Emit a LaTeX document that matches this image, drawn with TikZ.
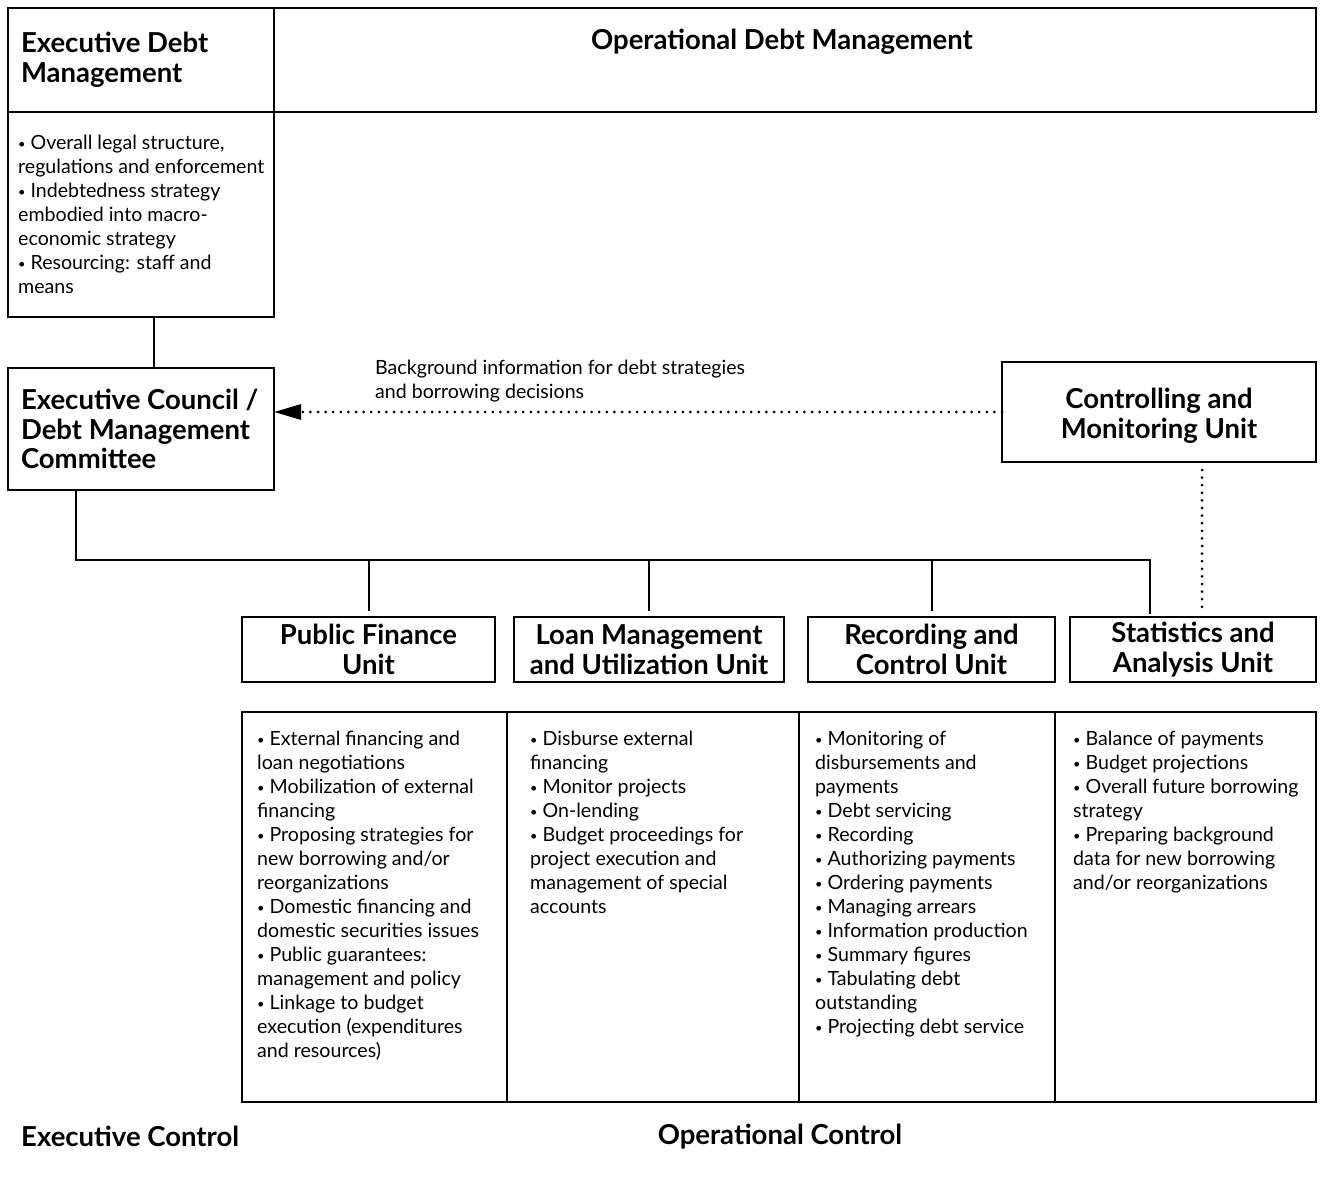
\documentclass[tikz,border=0pt]{standalone}
\usepackage{fontspec}
\setmainfont{Lato}
\usepackage{tikz}
\usetikzlibrary{arrows.meta,positioning}

\newcommand{\hdfont}{\fontsize{27.5}{29.5}\selectfont\bfseries}
\newcommand{\txtfont}{\fontsize{19.6}{24}\selectfont}
\newcommand{\bul}{\raisebox{0.1ex}{\scalebox{0.65}{•}}}

\begin{document}
\begin{tikzpicture}[x=1pt, y=-1pt,
  box/.style={draw, line width=2.2pt, inner sep=0pt, outer sep=0pt},
  headbox/.style={box, font=\hdfont, align=center},
  listtext/.style={font=\txtfont, align=left, inner sep=0pt, anchor=north west},
  orgline/.style={line width=2pt},
  dotline/.style={line width=3pt, line cap=round, dash pattern=on 0pt off 7.6pt},
  >={Triangle[length=27pt, width=15pt]}]
\useasboundingbox (0,0) rectangle (1323,1177);

% top row
\node[box, font=\hdfont, text width=240pt, align=flush left, minimum width=266pt, minimum height=104pt, anchor=north west] (EDM) at (8,8) {Executive Debt\\Management};
\node[box, minimum width=1042pt, minimum height=104pt, anchor=north west] (ODM) at (EDM.north east) {};
\node[font=\hdfont] (ODMtitle) at (782,42) {Operational Debt Management};

% executive side
\node[box, minimum width=266pt, minimum height=205pt, anchor=north west] (EDMbody) at (EDM.south west) {};
\node[listtext, anchor=west] (EDMlist) at ([xshift=10pt]EDMbody.west) {\bul{} Overall legal structure,\\regulations and enforcement\\\bul{} Indebtedness strategy\\embodied into macro-\\economic strategy\\\bul{} Resourcing: staff and\\means};
\node[box, font=\hdfont, text width=240pt, align=flush left, minimum width=266pt, minimum height=122pt, anchor=north west] (ECouncil) at (8,368) {Executive Council /\\Debt Management\\Committee};
\draw[orgline] ([xshift=13pt]EDMbody.south) -- ([xshift=13pt]ECouncil.north);

% controlling unit and feedback
\node[headbox, minimum width=314pt, minimum height=100pt, anchor=north west] (CMU) at (1002,362) {\rule{0pt}{28pt}Controlling and\\Monitoring Unit};
\draw[dotline, ->] (CMU.west) -- (CMU.west -| ECouncil.east);
\node[font=\txtfont, align=left, anchor=west, inner sep=0pt] (bginfo) at (375,381) {Background information for debt strategies\\and borrowing decisions};

% operational units
\node[headbox, minimum width=253pt, minimum height=65pt] (PFU) at (368.5,649.5) {Public Finance\\Unit};
\node[headbox, minimum width=270pt, minimum height=65pt] (LMU) at (649,649.5) {Loan Management\\and Utilization Unit};
\node[headbox, minimum width=247pt, minimum height=65pt] (RCU) at (931.5,649.5) {Recording and\\Control Unit};
\node[headbox, minimum width=246pt, minimum height=65pt] (SAU) at (1193,649.5) {Statistics and\\Analysis Unit};

\coordinate (bus) at (0,560);
\draw[orgline] ([xshift=-65pt]ECouncil.south) |- ([xshift=-43pt]SAU.north |- bus) -- ([xshift=-43pt, yshift=3pt]SAU.north);
\foreach \u in {PFU,LMU,RCU}
  \draw[orgline] (\u.north |- bus) -- ([yshift=6pt]\u.north);
\draw[dotline] ([xshift=43pt, yshift=-8pt]CMU.south) -- ([xshift=9pt, yshift=8pt]SAU.north);

% task columns
\node[box, minimum width=265pt, minimum height=390pt, anchor=north west] (PFUcol) at (242,712) {};
\node[box, minimum width=292pt, minimum height=390pt, anchor=north west] (LMUcol) at (PFUcol.north east) {};
\node[box, minimum width=256pt, minimum height=390pt, anchor=north west] (RCUcol) at (LMUcol.north east) {};
\node[box, minimum width=261pt, minimum height=390pt, anchor=north west] (SAUcol) at (RCUcol.north east) {};

\node[listtext] (PFUlist) at ([xshift=15pt, yshift=-19pt]PFUcol.north west) {\bul{} External financing and\\loan negotiations\\\bul{} Mobilization of external\\financing\\\bul{} Proposing strategies for\\new borrowing and/or\\reorganizations\\\bul{} Domestic financing and\\domestic securities issues\\\bul{} Public guarantees:\\management and policy\\\bul{} Linkage to budget\\execution (expenditures\\and resources)};
\node[listtext] (LMUlist) at ([xshift=23pt, yshift=-19pt]LMUcol.north west) {\bul{} Disburse external\\financing\\\bul{} Monitor projects\\\bul{} On-lending\\\bul{} Budget proceedings for\\project execution and\\management of special\\accounts};
\node[listtext] (RCUlist) at ([xshift=16pt, yshift=-19pt]RCUcol.north west) {\bul{} Monitoring of\\disbursements and\\payments\\\bul{} Debt servicing\\\bul{} Recording\\\bul{} Authorizing payments\\\bul{} Ordering payments\\\bul{} Managing arrears\\\bul{} Information production\\\bul{} Summary figures\\\bul{} Tabulating debt\\outstanding\\\bul{} Projecting debt service};
\node[listtext] (SAUlist) at ([xshift=18pt, yshift=-19pt]SAUcol.north west) {\bul{} Balance of payments\\\bul{} Budget projections\\\bul{} Overall future borrowing\\strategy\\\bul{} Preparing background\\data for new borrowing\\and/or reorganizations};

% bottom captions
\node[font=\hdfont, anchor=west, inner sep=0pt] (ExecCtrl) at (21,1136) {Executive Control};
\node[font=\hdfont] (OpCtrl) at (780,1137) {Operational Control};
\end{tikzpicture}
\end{document}
